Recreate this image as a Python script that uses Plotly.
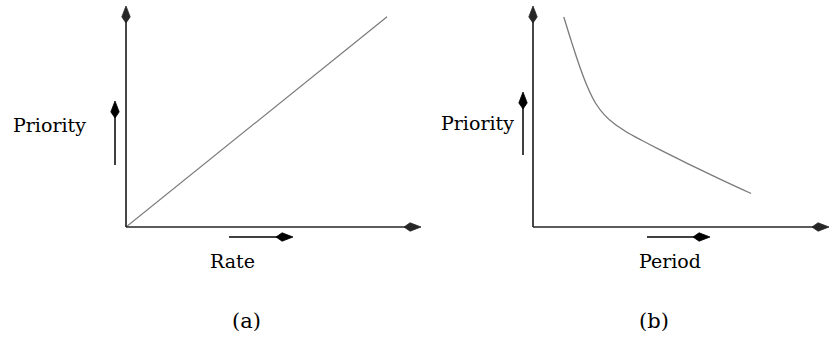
import plotly.graph_objects as go

W, H = 830, 340

# (a) priority grows linearly with rate
rate = [0.0, 8.85]
priority_a = [0.0, 9.6]

# (b) priority falls off with period
period = [1.04, 1.31, 1.58, 1.85, 2.12, 2.42, 2.76, 3.16, 3.67, 4.28, 5.19, 6.30, 7.37]
priority_b = [9.59, 8.42, 7.32, 6.37, 5.64, 5.11, 4.70, 4.34, 3.96, 3.53, 2.92, 2.20, 1.53]

AXIS_MAX = 10
INK = "#262626"
FONT = "DejaVu Serif"

fig = go.Figure()
fig.add_trace(go.Scatter(x=rate, y=priority_a, mode="lines",
                         line=dict(color="#7a7a7a", width=1.2),
                         xaxis="x", yaxis="y", hoverinfo="skip"))
fig.add_trace(go.Scatter(x=period, y=priority_b, mode="lines",
                         line=dict(color="#7a7a7a", width=1.3, shape="spline",
                                   smoothing=1.0),
                         xaxis="x2", yaxis="y2", hoverinfo="skip"))

# pixel canvas spanning the whole figure, used for decorations and labels
fig.add_trace(go.Scatter(x=[0, W], y=[0, H], mode="markers",
                         marker=dict(opacity=0), xaxis="x3", yaxis="y3",
                         hoverinfo="skip"))


def dom_x(a, b):
    return [a / W, b / W]


def dom_y(top, bottom):
    return [1 - bottom / H, 1 - top / H]


axis_common = dict(visible=False, range=[0, AXIS_MAX], fixedrange=True)
fig.update_layout(
    width=W, height=H,
    margin=dict(l=0, r=0, t=0, b=0),
    paper_bgcolor="white", plot_bgcolor="rgba(0,0,0,0)",
    showlegend=False,
    xaxis=dict(domain=dom_x(126, 421), anchor="y", **axis_common),
    yaxis=dict(domain=dom_y(8, 227), anchor="x", **axis_common),
    xaxis2=dict(domain=dom_x(533, 829), anchor="y2", **axis_common),
    yaxis2=dict(domain=dom_y(8, 227), anchor="x2", **axis_common),
    xaxis3=dict(domain=[0, 1], range=[0, W], visible=False, fixedrange=True,
                anchor="y3"),
    yaxis3=dict(domain=[0, 1], range=[H, 0], visible=False, fixedrange=True,
                anchor="x3"),
)

shapes = []


def arrow(tail, tip, color, width=1.7, head_len=17, head_w=4.2):
    (x0, y0), (x1, y1) = tail, tip
    dx, dy = x1 - x0, y1 - y0
    n = (dx * dx + dy * dy) ** 0.5
    ux, uy = dx / n, dy / n
    px_, py_ = -uy, ux
    back_x, back_y = x1 - head_len * ux, y1 - head_len * uy
    wide_x, wide_y = x1 - 0.64 * head_len * ux, y1 - 0.64 * head_len * uy
    shapes.append(dict(type="line", xref="x3", yref="y3", layer="above",
                       x0=x0, y0=y0, x1=back_x + 2 * ux, y1=back_y + 2 * uy,
                       line=dict(color=color, width=width)))
    path = (f"M{x1},{y1} "
            f"L{wide_x + head_w * px_},{wide_y + head_w * py_} "
            f"L{back_x},{back_y} "
            f"L{wide_x - head_w * px_},{wide_y - head_w * py_} Z")
    shapes.append(dict(type="path", xref="x3", yref="y3", path=path,
                       layer="above", fillcolor=color,
                       line=dict(color=color, width=0.8)))


# axes
for ox, tipx in ((126, 421), (533, 829)):
    arrow((ox, 227), (tipx, 227), INK)
    arrow((ox, 227), (ox, 6), INK)

# direction arrows beside the axis labels
arrow((115, 165), (115, 101), "black", width=1.5)
arrow((523, 155), (523, 92), "black", width=1.5)
arrow((229, 237), (293, 237), "black", width=1.5)
arrow((647, 237), (710, 237), "black", width=1.5)

annotations = []
for txt, cx, cy, size in (("Priority", 49, 125, 19),
                          ("Priority", 477, 123, 19),
                          ("Rate", 232, 261, 19),
                          ("Period", 670, 261, 19),
                          ("(a)", 246, 321, 21),
                          ("(b)", 654, 321, 21)):
    annotations.append(dict(
        x=cx, y=cy, xref="x3", yref="y3", text=txt,
        showarrow=False, xanchor="center", yanchor="middle",
        font=dict(family=FONT, size=size, color="black")))

fig.update_layout(shapes=shapes, annotations=annotations)
fig.write_html("out.html")
